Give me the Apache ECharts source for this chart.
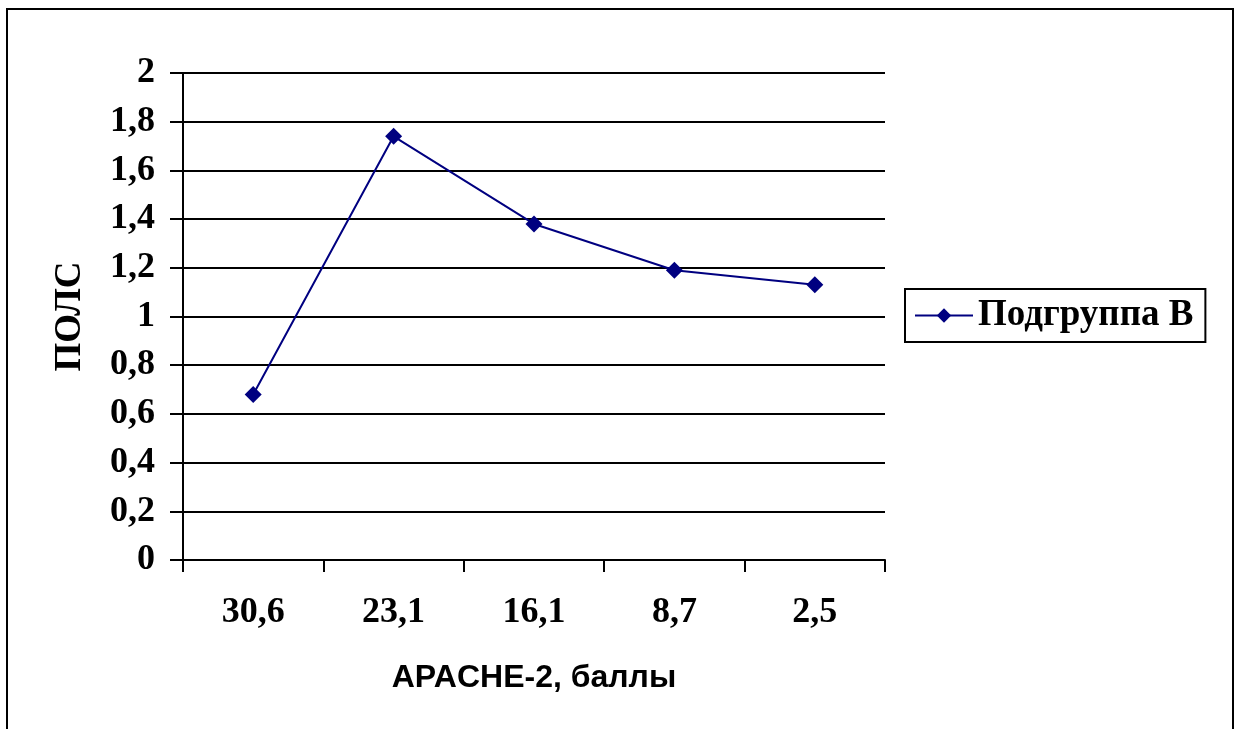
<!DOCTYPE html>
<html>
<head>
<meta charset="utf-8">
<script src="https://cdn.jsdelivr.net/npm/echarts@6/dist/echarts.min.js"></script>
<style>
html,body{margin:0;padding:0;background:#fff;}
#chart{width:1234px;height:729px;}
</style>
</head>
<body>
<div id="chart"></div>
<script>
const categories = ['30,6', '23,1', '16,1', '8,7', '2,5'];
const seriesName = 'Подгруппа В';
const values = [0.68, 1.74, 1.38, 1.19, 1.13];
const yTicks = {min: 0, max: 2, interval: 0.2};

const chart = echarts.init(document.getElementById('chart'));
const serif = '"Liberation Serif","Times New Roman",serif';
const sans = '"Liberation Sans",Arial,sans-serif';
chart.setOption({
  animation: false,
  backgroundColor: '#fff',
  graphic: [{
    type: 'rect',
    shape: {x: 7, y: 9, width: 1226, height: 740},
    style: {fill: 'none', stroke: '#000', lineWidth: 2}
  }],
  grid: {left: 183, right: 349, top: 73, bottom: 169},
  legend: {
    left: 905, top: 289,
    orient: 'vertical',
    data: [seriesName],
    itemWidth: 58, itemHeight: 18,
    itemGap: 0,
    padding: [8, 12, 8, 9],
    borderColor: '#000', borderWidth: 2,
    textStyle: {fontFamily: serif, fontWeight: 'bold', fontSize: 37, color: '#000'}
  },
  xAxis: {
    type: 'category',
    data: categories,
    boundaryGap: true,
    name: 'APACHE-2, баллы',
    nameLocation: 'middle',
    nameGap: 102,
    nameTextStyle: {fontFamily: sans, fontWeight: 'bold', fontSize: 32, color: '#000', verticalAlign: 'top'},
    axisLine: {lineStyle: {color: '#000', width: 2}},
    axisTick: {show: true, length: 12, lineStyle: {color: '#000', width: 2}, alignWithLabel: false},
    axisLabel: {margin: 35, fontFamily: serif, fontWeight: 'bold', fontSize: 36, color: '#000'},
    splitLine: {show: false}
  },
  yAxis: {
    type: 'value',
    min: yTicks.min, max: yTicks.max, interval: yTicks.interval,
    name: 'ПОЛС',
    nameLocation: 'middle',
    nameRotate: 90,
    nameGap: 94,
    nameTextStyle: {fontFamily: serif, fontWeight: 'bold', fontSize: 37, color: '#000'},
    axisLine: {show: true, lineStyle: {color: '#000', width: 2}},
    axisTick: {show: true, length: 13, lineStyle: {color: '#000', width: 2}},
    axisLabel: {margin: 28, fontFamily: serif, fontWeight: 'bold', fontSize: 36, color: '#000',
      formatter: v => String(Math.round(v * 10) / 10).replace('.', ',')},
    splitLine: {show: true, lineStyle: {color: '#000', width: 2}}
  },
  series: [{
    name: seriesName,
    type: 'line',
    data: values,
    symbol: 'diamond',
    symbolSize: 17,
    lineStyle: {color: '#000080', width: 2},
    itemStyle: {color: '#000080'}
  }]
});
</script>
</body>
</html>
